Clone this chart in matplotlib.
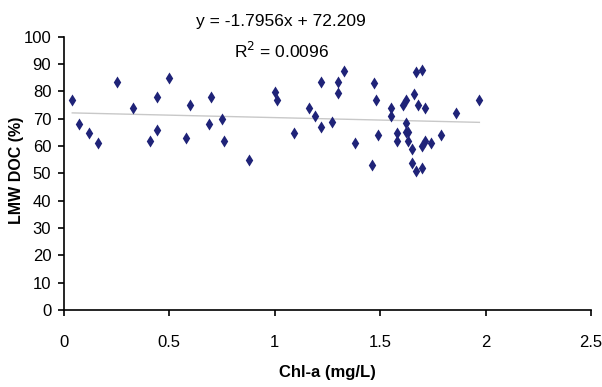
import matplotlib
matplotlib.use('Agg')
import matplotlib.pyplot as plt
import numpy as np

# Chl-a (mg/L) vs LMW DOC (%)
chla = [0.04, 0.07, 0.12, 0.16, 0.25, 0.33, 0.41, 0.44, 0.44, 0.50,
        0.58, 0.60, 0.69, 0.70, 0.75, 0.76, 0.88, 1.00, 1.01, 1.09,
        1.16, 1.19, 1.22, 1.22, 1.27, 1.30, 1.30, 1.33, 1.38, 1.46,
        1.47, 1.48, 1.49, 1.55, 1.55, 1.58, 1.58, 1.61, 1.62, 1.62,
        1.62, 1.63, 1.63, 1.65, 1.65, 1.66, 1.67, 1.67, 1.68, 1.70,
        1.70, 1.70, 1.71, 1.71, 1.74, 1.79, 1.86, 1.97]
lmw_doc = [76.8, 68.2, 64.8, 61.2, 83.3, 73.9, 61.8, 78.0, 66.0, 85.0,
           63.0, 75.1, 68.2, 78.0, 69.9, 61.8, 54.8, 79.9, 76.7, 64.8,
           73.9, 71.0, 83.3, 67.0, 68.8, 83.3, 79.6, 87.3, 61.2, 53.2,
           83.2, 76.8, 64.1, 74.1, 71.0, 64.9, 61.8, 74.9, 76.8, 68.3,
           65.0, 65.0, 61.8, 58.9, 53.8, 79.0, 87.2, 50.7, 74.9, 87.7,
           60.1, 52.0, 73.9, 61.8, 61.2, 64.1, 72.2, 76.8]
slope, intercept = -1.7956, 72.209
r2 = 0.0096

fig = plt.figure(figsize=(6.02, 3.87), dpi=100)
ax = fig.add_axes([0.106, 0.199, 0.876, 0.706])

tall_diamond = [(0, 1), (0.62, 0), (0, -1), (-0.62, 0), (0, 1)]
ax.scatter(chla, lmw_doc, marker=tall_diamond, s=75, color='#1f2378', zorder=3, linewidths=0)

xs = np.array([min(chla), max(chla)])
ax.plot(xs, slope * xs + intercept, color='#c8c8c8', linewidth=1.0, zorder=2)

ax.set_xlim(0, 2.5)
ax.set_ylim(0, 100)
ax.set_xticks([0, 0.5, 1, 1.5, 2, 2.5])
ax.set_xticklabels(['0', '0.5', '1', '1.5', '2', '2.5'])
ax.set_yticks(range(0, 101, 10))

for s in ['top', 'right']:
    ax.spines[s].set_visible(False)
for s in ['left', 'bottom']:
    ax.spines[s].set_linewidth(1.2)
ax.tick_params(axis='both', direction='out', length=4, width=1.2, labelsize=12)
ax.tick_params(axis='x', pad=14)
ax.tick_params(axis='y', pad=5)
for lab in ax.get_xticklabels() + ax.get_yticklabels():
    lab.set_fontfamily('Liberation Sans')

ax.set_xlabel('Chl-a (mg/L)', fontsize=12, fontweight='bold', family='Liberation Sans')
ax.xaxis.label.set_verticalalignment('center')
ax.xaxis.set_label_coords(0.5, -0.23)
ax.set_ylabel('LMW DOC (%)', fontsize=11.5, fontweight='bold', family='Liberation Sans')
ax.yaxis.set_label_coords(-0.075, 0.51)

fig.text(0.467, 0.945, 'y = -1.7956x + 72.209', ha='center', va='center',
         fontsize=12.5, family='Liberation Sans')
fig.text(0.468, 0.868, 'R$^2$ = 0.0096', ha='center', va='center',
         fontsize=12.5, family='Liberation Sans')

fig.savefig('out.png', dpi=100)
